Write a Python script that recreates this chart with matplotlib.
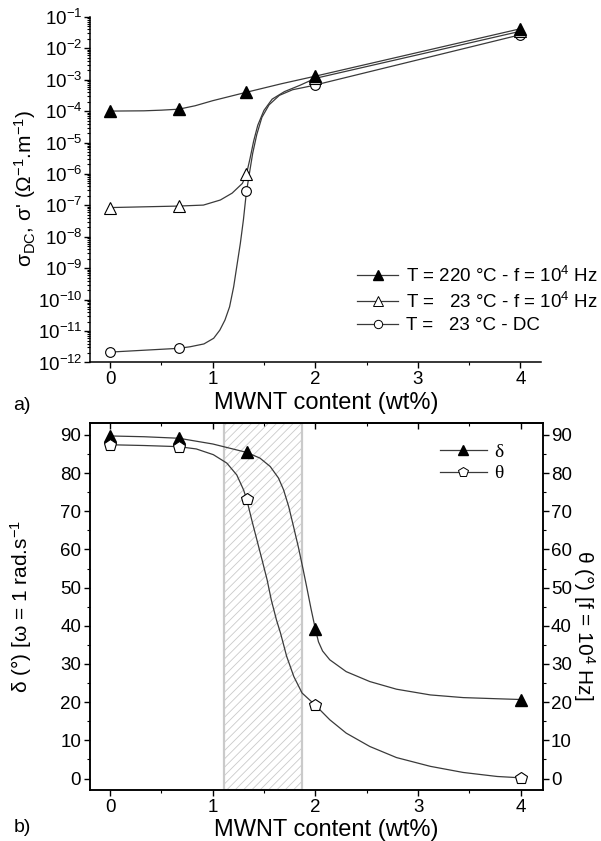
import numpy as np
import matplotlib
matplotlib.use("Agg")
import matplotlib.pyplot as plt
from matplotlib.lines import Line2D
from matplotlib.ticker import MultipleLocator, LogLocator, NullFormatter

plt.rcParams.update({
    "font.family": ["Liberation Sans", "DejaVu Sans"],
    "mathtext.default": "regular",
    "axes.linewidth": 1.1,
    "hatch.linewidth": 0.6,
})

# ── Data: panel a) conductivity ─────────────────────────────────────────────
wt = [0, 0.67, 1.33, 2, 4]
sig_220 = [1.0e-4, 1.15e-4, 4.0e-4, 1.3e-3, 4.2e-2]
sig_23 = [8.5e-8, 9.5e-8, 1.0e-6, 1.1e-3, 3.5e-2]
sig_dc = [2.1e-12, 2.8e-12, 2.8e-7, 6.7e-4, 2.7e-2]

# guide curves
fit220_x = [0, 0.33, 0.5, 0.67, 0.83, 1.0, 1.33, 1.67, 2, 4]
fit220_y = [1.0e-4, 1.02e-4, 1.07e-4, 1.15e-4, 1.48e-4, 2.14e-4, 3.98e-4,
            7.41e-4, 1.29e-3, 4.17e-2]
fit23_x = [0, 0.67, 0.91, 1.075, 1.19, 1.29, 1.33, 1.365, 1.40, 1.44, 1.50,
           1.58, 1.70, 1.85, 2, 4]
fit23_y = [8.5e-8, 9.5e-8, 1.02e-7, 1.48e-7, 2.45e-7, 5.0e-7, 1.0e-6, 3.16e-6,
           1.12e-5, 3.55e-5, 1.05e-4, 2.4e-4, 4.17e-4, 6.6e-4, 1.1e-3, 3.47e-2]
fitdc_x = [0, 0.67, 0.78, 0.915, 1.01, 1.07, 1.12, 1.165, 1.205, 1.235, 1.27,
           1.30, 1.32, 1.33, 1.36, 1.39, 1.43, 1.48, 1.55, 1.65, 1.78, 1.9, 2, 4]
fitdc_y = [2.14e-12, 2.82e-12, 3.16e-12, 3.89e-12, 5.89e-12, 1.07e-11,
           2.24e-11, 5.89e-11, 2.57e-10, 1.12e-9, 6.17e-9, 3.47e-8, 1.41e-7,
           2.75e-7, 1.12e-6, 4.47e-6, 1.78e-5, 6.31e-5, 1.58e-4, 3.16e-4,
           4.79e-4, 5.75e-4, 6.76e-4, 2.69e-2]

# ── Data: panel b) phase angles ─────────────────────────────────────────────
delta = [89.7, 89.1, 85.4, 39.1, 20.7]
theta = [87.4, 86.9, 73.2, 19.2, 0.2]

fitdelta_x = [0, 0.33, 0.67, 1.0, 1.33, 1.46, 1.56, 1.64, 1.69, 1.74, 1.785,
              1.835, 1.88, 1.915, 1.957, 2.0, 2.03, 2.07, 2.14, 2.30, 2.53,
              2.79, 3.12, 3.44, 3.77, 4.0]
fitdelta_y = [89.7, 89.5, 89.1, 87.6, 85.4, 83.9, 81.7, 78.7, 75.6, 71.2,
              66.2, 60.5, 54.8, 50.2, 44.5, 39.1, 35.8, 33.4, 31.1, 28.0,
              25.4, 23.4, 21.9, 21.2, 20.9, 20.7]
fittheta_x = [0, 0.33, 0.67, 0.84, 1.006, 1.137, 1.234, 1.30, 1.33, 1.38, 1.43,
              1.48, 1.53, 1.57, 1.62, 1.66, 1.72, 1.79, 1.87, 2.0, 2.14, 2.30,
              2.53, 2.79, 3.12, 3.44, 3.77, 4.0]
fittheta_y = [87.4, 87.2, 86.9, 86.3, 84.8, 82.6, 79.5, 75.6, 73.2, 67.7,
              62.5, 57.3, 52.0, 46.8, 41.6, 38.1, 32.0, 26.7, 22.4, 19.2,
              15.4, 11.9, 8.4, 5.5, 3.2, 1.6, 0.55, 0.2]

band = (1.11, 1.866)   # percolation region

lc = "#3a3a3a"
lw = 0.9
tfs = 13.5

fig = plt.figure(figsize=(6.01, 8.41), dpi=100)

# ── a) ──────────────────────────────────────────────────────────────────────
ax1 = fig.add_axes([0.149, 0.569, 0.751, 0.411])
ax1.plot(fit220_x, fit220_y, color=lc, lw=lw)
ax1.plot(fit23_x, fit23_y, color=lc, lw=lw)
ax1.plot(fitdc_x, fitdc_y, color=lc, lw=lw)
ax1.plot(wt, sig_dc, ls="none", marker="o", ms=7, mfc="white", mec="black", mew=0.8)
ax1.plot(wt, sig_23, ls="none", marker="^", ms=8.5, mfc="white", mec="black", mew=0.8)
ax1.plot(wt, sig_220, ls="none", marker="^", ms=8.5, mfc="black", mec="black")

ax1.set_yscale("log")
ax1.set_xlim(-0.2, 4.2)
ax1.set_ylim(1e-12, 1e-1)
ax1.spines["top"].set_visible(False)
ax1.spines["right"].set_visible(False)
ax1.xaxis.set_major_locator(MultipleLocator(1))
ax1.xaxis.set_minor_locator(MultipleLocator(0.5))
ax1.yaxis.set_major_locator(LogLocator(base=10, numticks=20))
ax1.yaxis.set_minor_locator(LogLocator(base=10, subs=np.arange(2, 10), numticks=20))
ax1.yaxis.set_minor_formatter(NullFormatter())
ax1.tick_params(which="major", direction="out", length=4, width=1.0, labelsize=tfs)
ax1.tick_params(which="minor", direction="out", length=2, width=0.8)
ax1.tick_params(axis="y", which="major", pad=1)
ax1.tick_params(axis="x", which="major", pad=2.5)

ax1.set_xlabel("MWNT content (wt%)", fontsize=17)
ax1.xaxis.set_label_coords(0.525, -0.118)
ax1.xaxis.label.set_va("center")
ax1.set_ylabel("σ$_{DC}$, σ' (Ω$^{-1}$.m$^{-1}$)", fontsize=15)
ax1.yaxis.set_label_coords(-0.143, 0.505)
ax1.yaxis.label.set_va("center")

h1 = [
    Line2D([], [], color=lc, lw=lw, marker="^", ms=7, mfc="black", mec="black"),
    Line2D([], [], color=lc, lw=lw, marker="^", ms=7, mfc="white", mec="black", mew=0.7),
    Line2D([], [], color=lc, lw=lw, marker="o", ms=6, mfc="white", mec="black", mew=0.7),
]
l1 = ["T = 220 °C - f = 10$^4$ Hz", "T =   23 °C - f = 10$^4$ Hz", "T =   23 °C - DC"]
ax1.legend(h1, l1, loc="upper left", bbox_to_anchor=(0.594, 0.684),
           bbox_transform=fig.transFigure, frameon=False, fontsize=13.5,
           handlelength=2.2, handletextpad=0.4, labelspacing=0.3,
           borderpad=0, borderaxespad=0)

fig.text(0.022, 1 - 405 / 841, "a)", fontsize=14, va="center")

# ── b) ──────────────────────────────────────────────────────────────────────
ax2 = fig.add_axes([0.149, 0.0606, 0.755, 0.436])
ax2.axvspan(band[0], band[1], facecolor="none", edgecolor="#cacaca",
            hatch="////", lw=1.6, zorder=0)
ax2.plot(fitdelta_x, fitdelta_y, color=lc, lw=lw)
ax2.plot(wt, delta, ls="none", marker="^", ms=8.5, mfc="black", mec="black")
ax2.set_xlim(-0.2, 4.22)
ax2.set_ylim(-3, 93)

axr = ax2.twinx()
axr.plot(fittheta_x, fittheta_y, color=lc, lw=lw)
axr.plot(wt, theta, ls="none", marker="p", ms=9, mfc="white", mec="black", mew=0.8)
axr.set_ylim(-3, 93)

for a in (ax2, axr):
    a.yaxis.set_major_locator(MultipleLocator(10))
    a.yaxis.set_minor_locator(MultipleLocator(5))
    a.tick_params(which="major", direction="out", length=4, width=1.0, labelsize=tfs)
    a.tick_params(which="minor", direction="out", length=2, width=0.8)
ax2.xaxis.set_major_locator(MultipleLocator(1))
ax2.xaxis.set_minor_locator(MultipleLocator(0.5))
ax2.tick_params(axis="y", which="major", pad=2)
ax2.tick_params(axis="x", which="major", pad=2.5)
axr.tick_params(axis="y", which="major", pad=1.5)

top = ax2.secondary_xaxis("top")
top.xaxis.set_major_locator(MultipleLocator(1))
top.xaxis.set_minor_locator(MultipleLocator(0.5))
top.tick_params(which="major", direction="in", length=4, width=1.0, labeltop=False)
top.tick_params(which="minor", direction="in", length=2, width=0.8)

ax2.set_xlabel("MWNT content (wt%)", fontsize=17)
ax2.xaxis.set_label_coords(0.522, -0.108)
ax2.xaxis.label.set_va("center")
ax2.set_ylabel("δ (°) [ω = 1 rad.s$^{-1}$", fontsize=15)
ax2.yaxis.set_label_coords(-0.15, 0.50)
ax2.yaxis.label.set_va("center")
axr.set_ylabel("θ (°) [f = 10$^4$ Hz]", fontsize=15, rotation=-90)
axr.yaxis.set_label_coords(1.09, 0.45)
axr.yaxis.label.set_va("center")

h2 = [
    Line2D([], [], color=lc, lw=lw, marker="^", ms=7, mfc="black", mec="black"),
    Line2D([], [], color=lc, lw=lw, marker="p", ms=7.5, mfc="white", mec="black", mew=0.7),
]
axr.legend(h2, ["δ", "θ"], loc="upper left", bbox_to_anchor=(0.732, 0.473),
           bbox_transform=fig.transFigure, frameon=False,
           prop={"family": "Liberation Serif", "size": 14},
           handlelength=2.4, handletextpad=0.4, labelspacing=0.2,
           borderpad=0, borderaxespad=0)

fig.text(0.022, 1 - 827 / 841, "b)", fontsize=14, va="center")

fig.savefig("out.png", dpi=100)
